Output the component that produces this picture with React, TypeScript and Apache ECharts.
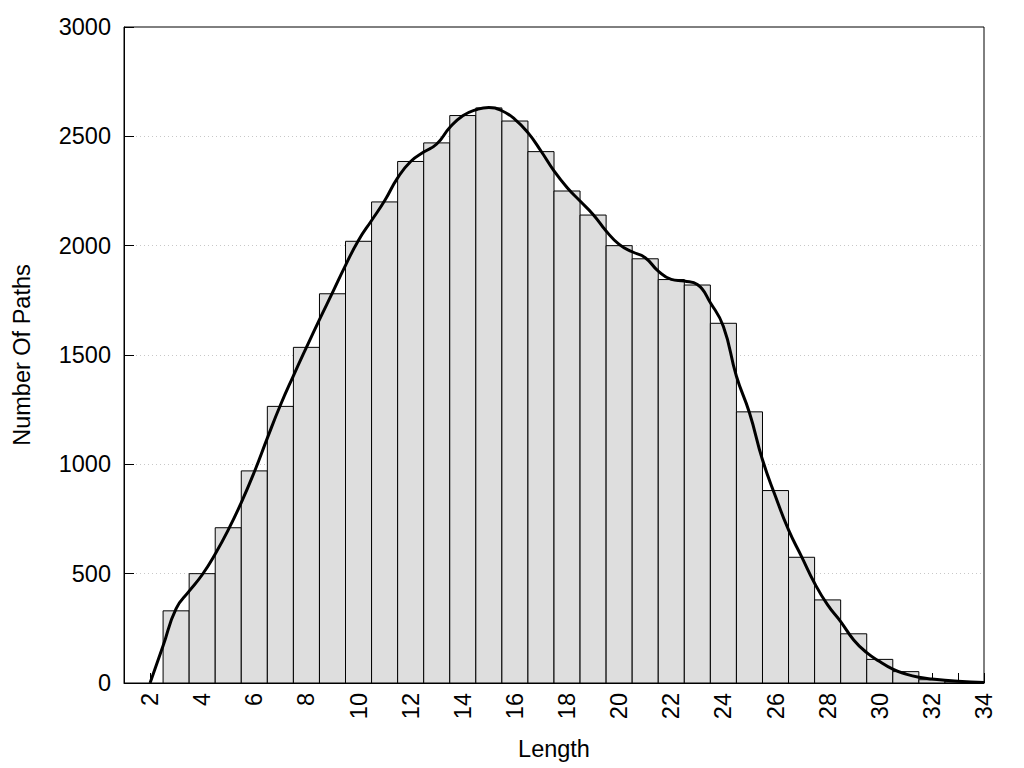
import React, { useEffect, useRef } from "react";
import * as echarts from "echarts";

const barLengths = [3, 4, 5, 6, 7, 8, 9, 10, 11, 12, 13, 14, 15, 16, 17, 18, 19, 20, 21, 22, 23, 24, 25, 26, 27, 28, 29, 30, 31, 32, 33];
const barCounts = [330, 500, 710, 970, 1265, 1535, 1780, 2020, 2200, 2385, 2470, 2595, 2630, 2570, 2430, 2250, 2140, 2000, 1940, 1845, 1820, 1645, 1240, 880, 575, 380, 225, 108, 52, 15, 5];

const curveX = [2, 2.5, 3, 3.5, 4, 4.5, 5, 5.5, 6, 6.5, 7, 7.5, 8, 8.5, 9, 9.5, 10, 10.5, 11, 11.5, 12, 12.5, 13, 13.5, 14, 14.5, 15, 15.5, 16, 16.5, 17, 17.5, 18, 18.5, 19, 19.5, 20, 20.5, 21, 21.5, 22, 22.5, 23, 23.5, 24, 24.5, 25, 25.5, 26, 26.5, 27, 27.5, 28, 28.5, 29, 29.5, 30, 30.5, 31, 31.5, 32, 33, 34];
const curveY = [0, 170, 340, 420, 495, 590, 700, 825, 965, 1120, 1270, 1405, 1535, 1662, 1785, 1910, 2025, 2115, 2205, 2310, 2385, 2428, 2465, 2540, 2594, 2621, 2632, 2617, 2578, 2517, 2433, 2342, 2266, 2204, 2143, 2067, 2006, 1972, 1945, 1884, 1846, 1838, 1822, 1739, 1630, 1403, 1236, 1021, 853, 700, 578, 456, 357, 281, 197, 139, 98, 63, 41, 26, 18, 8, 2];

const xMin = 1;
const xMax = 34;
const yTicks = [0, 500, 1000, 1500, 2000, 2500, 3000];

const FONT = "'Liberation Sans', Arial, Helvetica, sans-serif";
const FS = 23.5;

export default function App() {
  const ref = useRef<HTMLDivElement>(null);
  useEffect(() => {
    if (!ref.current) return;
    const chart = echarts.init(ref.current, undefined, { renderer: "svg" });
    chart.setOption({
      animation: false,
      backgroundColor: "#ffffff",
      textStyle: { fontFamily: FONT },
      grid: {
        left: 124,
        right: 40,
        top: 27,
        bottom: 85,
        show: true,
        borderColor: "#000",
        borderWidth: 1,
        backgroundColor: "transparent",
      },
      xAxis: {
        type: "value",
        min: xMin,
        max: xMax,
        interval: 1,
        name: "Length",
        nameLocation: "middle",
        nameGap: 54,
        nameTextStyle: { fontSize: FS, color: "#000", fontFamily: FONT },
        axisLine: { show: true, lineStyle: { color: "#000", width: 1 } },
        axisTick: { show: true, inside: true, length: 10, lineStyle: { color: "#000", width: 1 } },
        axisLabel: {
          rotate: 90,
          margin: 10,
          fontSize: FS,
          color: "#000",
          fontFamily: FONT,
          formatter: (v: number) => (v % 2 === 0 ? String(v) : ""),
        },
        splitLine: { show: false },
      },
      yAxis: {
        type: "value",
        min: yTicks[0],
        max: yTicks[yTicks.length - 1],
        interval: 500,
        name: "Number Of Paths",
        nameLocation: "middle",
        nameGap: 90,
        nameTextStyle: { fontSize: FS, color: "#000", fontFamily: FONT },
        axisLine: { show: true, lineStyle: { color: "#000", width: 1 } },
        axisTick: { show: true, inside: true, length: 10, lineStyle: { color: "#000", width: 1 } },
        axisLabel: {
          margin: 13,
          fontSize: FS,
          color: "#000",
          fontFamily: FONT,
          formatter: (v: number) => String(v),
        },
        splitLine: {
          show: true,
          showMinLine: false,
          showMaxLine: false,
          lineStyle: { color: "#c8c8c8", type: [1, 3], width: 1 },
        },
      },
      series: [
        {
          type: "custom",
          z: 2,
          data: barLengths.map((x, i) => [x, barCounts[i]]),
          renderItem: (params: any, api: any) => {
            const x = api.value(0);
            const y = api.value(1);
            const p0 = api.coord([x - 0.5, y]);
            const p1 = api.coord([x + 0.5, 0]);
            return {
              type: "rect",
              shape: { x: p0[0], y: p0[1], width: p1[0] - p0[0], height: p1[1] - p0[1] },
              style: { fill: "#dedede", stroke: "#000", lineWidth: 1 },
            };
          },
        },
        {
          type: "line",
          z: 5,
          data: curveX.map((x, i) => [x, curveY[i]]),
          smooth: 0.5,
          showSymbol: false,
          symbol: "none",
          lineStyle: { color: "#000", width: 3 },
        },
      ],
    });
    return () => chart.dispose();
  }, []);
  return (
    <div
      ref={ref}
      style={{ position: "absolute", left: 0, top: 0, width: 1024, height: 768 }}
    />
  );
}
